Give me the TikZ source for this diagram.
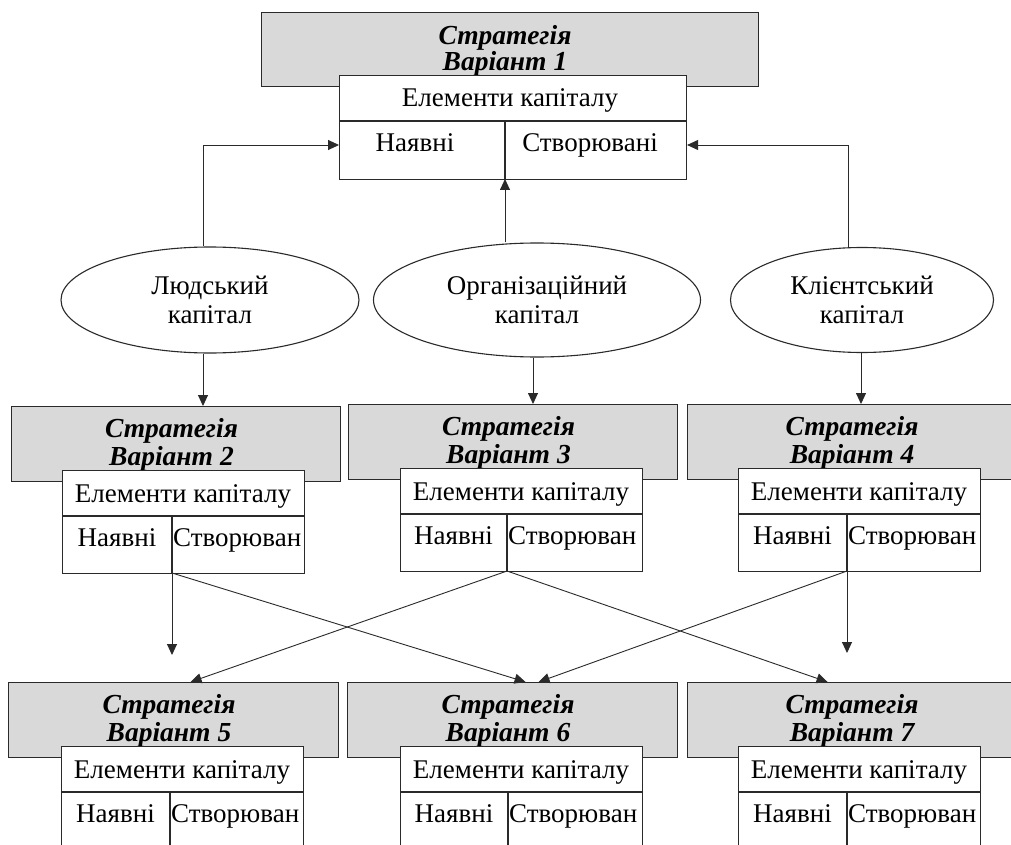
\documentclass[tikz,border=0pt]{standalone}
\usepackage{fontspec}
\setmainfont{Liberation Serif}
\usetikzlibrary{arrows.meta,shapes.geometric,calc}
\definecolor{greyfill}{HTML}{D9D9D9}
\definecolor{linec}{HTML}{2A2A2A}
\tikzset{
  greybox/.style={draw=linec, fill=greyfill, line width=1.1pt, inner sep=0pt, anchor=north west},
  whitebox/.style={draw=linec, fill=white, line width=1.1pt, inner sep=0pt, anchor=north west},
  divline/.style={draw=linec, line width=1.1pt},
  stitle/.style={anchor=base, inner sep=0pt, font=\fontsize{27.5}{30}\selectfont\bfseries\itshape},
  txt/.style={anchor=base, inner sep=0pt, font=\fontsize{27}{30}\selectfont},
  ell/.style={ellipse, draw=linec, line width=1.1pt, inner sep=0pt, align=center, font=\fontsize{27}{29}\selectfont},
  arr/.style={draw=linec, line width=0.9pt, -{Triangle[length=11pt,width=10pt]}},
}
\newcommand{\stratblock}[7]{%
  \pgfmathsetmacro{\sbgw}{#4-#2}%
  \pgfmathsetmacro{\sbww}{#6-#5}%
  \pgfmathsetmacro{\sbwy}{#3+64}%
  \pgfmathsetmacro{\sbhy}{#3+110}%
  \pgfmathsetmacro{\sbby}{#3+167}%
  \pgfmathsetmacro{\sbgcx}{(#2+#4)/2}%
  \pgfmathsetmacro{\sbwcx}{(#5+#6)/2}%
  \pgfmathsetmacro{\sblcx}{(#5+#7)/2}%
  \node[greybox, minimum width=\sbgw pt, minimum height=75pt] (g#1) at (#2,#3) {};
  \node[stitle] (t#1) at (\sbgcx-4,#3+31) {Стратегія};
  \node[stitle] (v#1) at (\sbgcx-4,#3+59) {Варіант #1};
  \node[whitebox, minimum width=\sbww pt, minimum height=103pt] (w#1) at (#5,\sbwy) {};
  \draw[divline] (#5,\sbhy) -- (#6,\sbhy);
  \draw[divline] (#7,\sbhy) -- (#7,\sbby);
  \coordinate (d#1) at (#7,\sbby);
  \node[txt] (e#1) at (\sbwcx,\sbwy+32) {Елементи капіталу};
  \node[txt] (a#1) at (\sblcx,\sbwy+76) {Наявні};
  \node[txt, anchor=base west] (c#1) at (#7+1,\sbwy+76) {Створюван};
}
\begin{document}
\begin{tikzpicture}[x=1pt,y=-1pt]
\useasboundingbox (0,0) rectangle (1011,845);
\clip (0,0) rectangle (1011,845);
\fill[white] (0,0) rectangle (1011,845);

% top block
\node[greybox, minimum width=497pt, minimum height=74pt] (g1) at (261,12) {};
\node[stitle] (t1) at (505,45) {Стратегія};
\node[stitle] (v1) at (505,71) {Варіант 1};
\node[whitebox, minimum width=347pt, minimum height=104pt] (w1) at (339,75) {};
\draw[divline] (339,121) -- (686,121);
\draw[divline] (505,121) -- (505,179);
\coordinate (d1) at (505,179);
\node[txt] (e1) at (510,107) {Елементи капіталу};
\node[txt] (a1) at (415,152) {Наявні};
\node[txt] (c1) at (590,152) {Створювані};

% ellipses
\node[ell, minimum width=298pt, minimum height=106pt] (h1) at (210,300) {Людський\\капітал};
\node[ell, minimum width=327pt, minimum height=114pt] (h2) at (537,300) {Організаційний\\капітал};
\node[ell, minimum width=263pt, minimum height=105pt] (h3) at (862,300) {Клієнтський\\капітал};

% middle row
\stratblock{2}{11}{406}{340}{62}{304}{172}
\stratblock{3}{348}{404}{677}{400}{642}{507}
\stratblock{4}{687}{404}{1025}{738}{980}{847}

% bottom row
\stratblock{5}{8}{682}{338}{61}{303}{170}
\stratblock{6}{347}{682}{677}{400}{642}{508}
\stratblock{7}{687}{682}{1025}{738}{980}{847}

% arrows to top block
\draw[arr] ([xshift=-7pt]h1.north) |- (w1.west |- 0,145);
\draw[arr] ([xshift=-14pt]h3.north) |- (w1.east |- 0,145);
\draw[arr] (h2.north -| d1) -- (d1);

% arrows from ellipses down
\draw[arr] ([xshift=-7pt]h1.south) -- ([xshift=-7pt]h1.south |- g2.north);
\draw[arr] ([xshift=-4pt]h2.south) -- ([xshift=-4pt]h2.south |- g3.north);
\draw[arr] ([xshift=-1pt]h3.south) -- ([xshift=-1pt]h3.south |- g4.north);

% cross arrows
\coordinate (f2) at (172,655);
\coordinate (f4) at (847,653);
\draw[arr] (d2) -- (f2);
\draw[arr] (d4) -- (f4);
\draw[arr] (d2) -- ([xshift=13pt]g6.north);
\draw[arr] (d4) -- ([xshift=26pt]g6.north);
\draw[arr] (d3) -- ([xshift=17pt]g5.north);
\draw[arr] (d3) -- ([xshift=-29pt]g7.north);
\end{tikzpicture}
\end{document}
